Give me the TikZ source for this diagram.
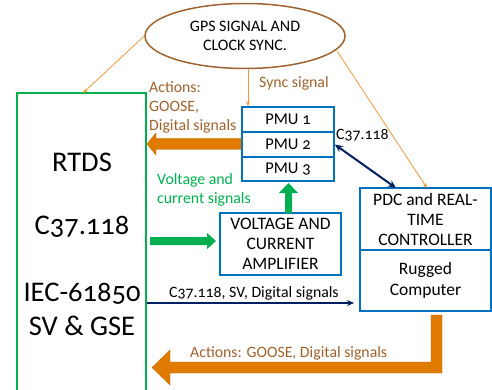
\documentclass[tikz,border=0pt]{standalone}
\usepackage{fontspec}
\setmainfont{Carlito}[Numbers=OldStyle]
\usetikzlibrary{arrows.meta,shapes.geometric,calc}
\definecolor{borange}{HTML}{E07B00}
\definecolor{bbrown}{HTML}{A0622D}
\definecolor{lorange}{HTML}{F09A3A}
\definecolor{bgreen}{HTML}{00B050}
\definecolor{bblue}{HTML}{0070C0}
\definecolor{bnavy}{HTML}{002060}
\definecolor{ebrown}{HTML}{9C6430}
\begin{document}
\begin{tikzpicture}[x=1pt,y=-1pt,
  box/.style={draw=bblue,line width=1.6pt,inner sep=0pt},
  sm/.style={font=\fontsize{15.8}{19}\selectfont,inner sep=0pt},
  big/.style={font=\fontsize{28.5}{32}\selectfont,inner sep=0pt},
  boxtxt/.style={font=\fontsize{17.5}{20}\selectfont},
  thin/.style={draw=lorange,line width=0.8pt,-{Stealth[length=5pt,width=4pt]}},
  fatorange/.style={fill=borange,draw=borange!85!black,line width=0.4pt},
  fatgreen/.style={fill=bgreen,draw=none}]
\useasboundingbox (0,0) rectangle (492,390);
% ellipse
\node[ellipse,draw=ebrown,line width=1.5pt,minimum width=200pt,minimum height=65pt,inner sep=0pt] (gps) at (245,36) {};
\node[inner sep=0pt,font=\fontsize{16}{19}\selectfont,align=center] (gpst) at (245,36) {GPS SIGNAL AND\\CLOCK SYNC.};
% RTDS box
\draw[draw=bgreen,line width=1.5pt] (17,93) rectangle (146,400);
\coordinate (rtdstop) at (83,93);
\node[big] (t1) at (82,162) {RTDS};
\node[big] (t2) at (82,227) {C37.118};
\node[big] (t3) at (82,294) {IEC-61850};
\node[big] (t4) at (82,326) {SV \& GSE};
% PMUs
\node[box,minimum width=92pt,minimum height=25pt,font=\fontsize{16.5}{19}\selectfont] (pmu1) at (288,119.5) {PMU 1};
\node[box,minimum width=92pt,minimum height=25pt,font=\fontsize{16.5}{19}\selectfont] (pmu2) at (288,144.5) {PMU 2};
\node[box,minimum width=92pt,minimum height=24pt,font=\fontsize{16.5}{19}\selectfont] (pmu3) at (288,169) {PMU 3};
% amplifier
\node[box,boxtxt,minimum width=121pt,minimum height=62pt,align=center] (amp) at (280.5,244) {VOLTAGE AND\\CURRENT\\AMPLIFIER};
% PDC
\node[box,boxtxt,minimum width=131pt,minimum height=62pt,align=center] (pdc) at (425.5,219) {PDC and REAL-\\TIME\\CONTROLLER};
\node[box,boxtxt,minimum width=131pt,minimum height=61pt,align=center,font=\fontsize{17.5}{21}\selectfont] (rug) at (425.5,280.5) {Rugged\\Computer};
% thin orange lines
\draw[thin] (gps.west) -- (rtdstop);
\draw[thin] (gps.south) ++(3,0) coordinate (gs) -- (gs |- pmu1.north);
\coordinate (gr) at (337,51);
\coordinate (pdcin) at (427,188);
\draw[thin] (gr) -- (pdcin);
% labels
\node[sm,text=bbrown,anchor=west] (sync) at (259,83) {Sync signal};
\node[sm,text=bbrown,anchor=north west,align=left] (act1) at (149,81.5) {Actions:\\GOOSE,\\Digital signals};
\node[sm,text=bgreen,anchor=north west,align=left] (vc) at (157,173) {Voltage and\\current signals};
\node[sm,text=black,anchor=west] (c37a) at (336,135) {C37.118};
\node[sm,text=black,anchor=west] (c37b) at (169,293) {C37.118, SV, Digital signals};
\node[sm,text=bbrown,anchor=west] (act2) at (190,353) {Actions: GOOSE, Digital signals};
% navy arrows
\coordinate (pdcl) at (396,188);
\draw[bnavy,line width=2pt,{Stealth[length=8pt,width=7pt]}-{Stealth[length=8pt,width=7pt]}] (pmu2.east) -- (pdcl);
\coordinate (navs) at (147,303);
\coordinate (nave) at (354,303);
\draw[bnavy,line width=1.5pt,-{Stealth[length=7pt,width=6pt]}] (navs) -- (nave);
% orange block arrow PMU -> RTDS
\filldraw[fatorange] (147,144) -- (156,133) -- (156,138.5) -- (241,138.5) -- (241,149.5) -- (156,149.5) -- (156,155) -- cycle;
% green arrows
\fill[fatgreen] (150,237) -- (207,237) -- (207,233) -- (216,241) -- (207,249) -- (207,245) -- (150,245) -- cycle;
\fill[fatgreen] (285,213) -- (285,193) -- (279,193) -- (288.5,183) -- (298,193) -- (292,193) -- (292,213) -- cycle;
% bottom L arrow
\filldraw[fatorange] (431,315) -- (442,315) -- (442,373) -- (170,373) -- (170,385) -- (152,367.5) -- (170,350) -- (170,362) -- (431,362) -- cycle;
\end{tikzpicture}
\end{document}
